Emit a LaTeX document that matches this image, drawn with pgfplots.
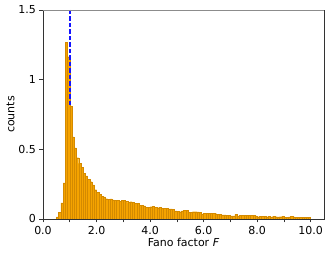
\documentclass[border=0pt]{standalone}
\usepackage{fontspec}
\setmainfont{DejaVu Sans}
\usepackage{pgfplots}
\pgfplotsset{compat=1.18}

\definecolor{barfill}{RGB}{245,163,0}
\definecolor{baredge}{RGB}{212,138,0}
\definecolor{refblue}{RGB}{20,20,255}

\pgfplotstableread{
F      counts
0.5000 0.016
0.5833 0.050
0.6667 0.115
0.7500 0.260
0.8333 1.270
0.9167 1.165
1.0000 0.810
1.0833 0.590
1.1667 0.510
1.2500 0.440
1.3333 0.400
1.4167 0.370
1.5000 0.330
1.5833 0.310
1.6667 0.285
1.7500 0.268
1.8333 0.245
1.9167 0.210
2.0000 0.190
2.0833 0.175
2.1667 0.165
2.2500 0.158
2.3333 0.146
2.4167 0.143
2.5000 0.145
2.5833 0.137
2.6667 0.135
2.7500 0.132
2.8333 0.129
2.9167 0.133
3.0000 0.132
3.0833 0.127
3.1667 0.118
3.2500 0.124
3.3333 0.118
3.4167 0.112
3.5000 0.114
3.5833 0.100
3.6667 0.097
3.7500 0.095
3.8333 0.083
3.9167 0.084
4.0000 0.088
4.0833 0.092
4.1667 0.084
4.2500 0.081
4.3333 0.083
4.4167 0.077
4.5000 0.075
4.5833 0.077
4.6667 0.072
4.7500 0.073
4.8333 0.068
4.9167 0.058
5.0000 0.053
5.0833 0.052
5.1667 0.058
5.2500 0.063
5.3333 0.064
5.4167 0.050
5.5000 0.048
5.5833 0.052
5.6667 0.052
5.7500 0.051
5.8333 0.047
5.9167 0.036
6.0000 0.040
6.0833 0.039
6.1667 0.040
6.2500 0.043
6.3333 0.040
6.4167 0.038
6.5000 0.033
6.5833 0.035
6.6667 0.030
6.7500 0.030
6.8333 0.028
6.9167 0.028
7.0000 0.022
7.0833 0.023
7.1667 0.034
7.2500 0.022
7.3333 0.027
7.4167 0.027
7.5000 0.026
7.5833 0.027
7.6667 0.025
7.7500 0.026
7.8333 0.028
7.9167 0.022
8.0000 0.017
8.0833 0.019
8.1667 0.018
8.2500 0.020
8.3333 0.017
8.4167 0.018
8.5000 0.016
8.5833 0.020
8.6667 0.017
8.7500 0.016
8.8333 0.017
8.9167 0.018
9.0000 0.014
9.0833 0.012
9.1667 0.016
9.2500 0.018
9.3333 0.016
9.4167 0.014
9.5000 0.012
9.5833 0.010
9.6667 0.011
9.7500 0.013
9.8333 0.012
9.9167 0.010
10.0000 0.010
}\fanodata

\begin{document}
\begin{tikzpicture}
\begin{axis}[
    width=281pt, height=209pt,
    scale only axis,
    xmin=0, xmax=10.5,
    ymin=0, ymax=1.5,
    xtick={0,1,2,3,4,5,6,7,8,9,10},
    xticklabels={0.0,,2.0,,4.0,,6.0,,8.0,,10.0},
    ytick={0,0.5,1,1.5},
    yticklabels={0,0.5,1,1.5},
    xtick pos=bottom, ytick pos=left,
    tick align=outside,
    major tick length=3.5pt,
    tick style={black!80, line width=0.6pt},
    axis line style={black!80, line width=0.7pt},
    /pgf/number format/assume math mode=true,
    ticklabel style={font=\fontsize{11}{13}\selectfont},
    label style={font=\fontsize{11}{13}\selectfont},
    xlabel={Fano factor \textit{F}},
    ylabel={counts},
    xlabel style={yshift=3pt},
    ylabel style={yshift=-3pt},
    clip=true,
]
\addplot[ybar interval, fill=barfill, draw=baredge, line width=0.25pt] table[x=F, y=counts] {\fanodata};
\addplot[color=refblue, line width=1.7pt, dash pattern=on 4.5pt off 2pt] coordinates {(1,1.5) (1,0.81)};
\draw[black!45, line width=0.7pt] (rel axis cs:0,1) -- (rel axis cs:1,1);
\draw[black!55, line width=0.7pt] (rel axis cs:0,0) -- (rel axis cs:1,0);
\end{axis}
\path (current axis.south west) ++(-43pt,-37pt) coordinate (bbsw);
\path (current axis.north east) ++(9pt,10pt) coordinate (bbne);
\path (bbsw) rectangle (bbne);
\end{tikzpicture}
\end{document}
